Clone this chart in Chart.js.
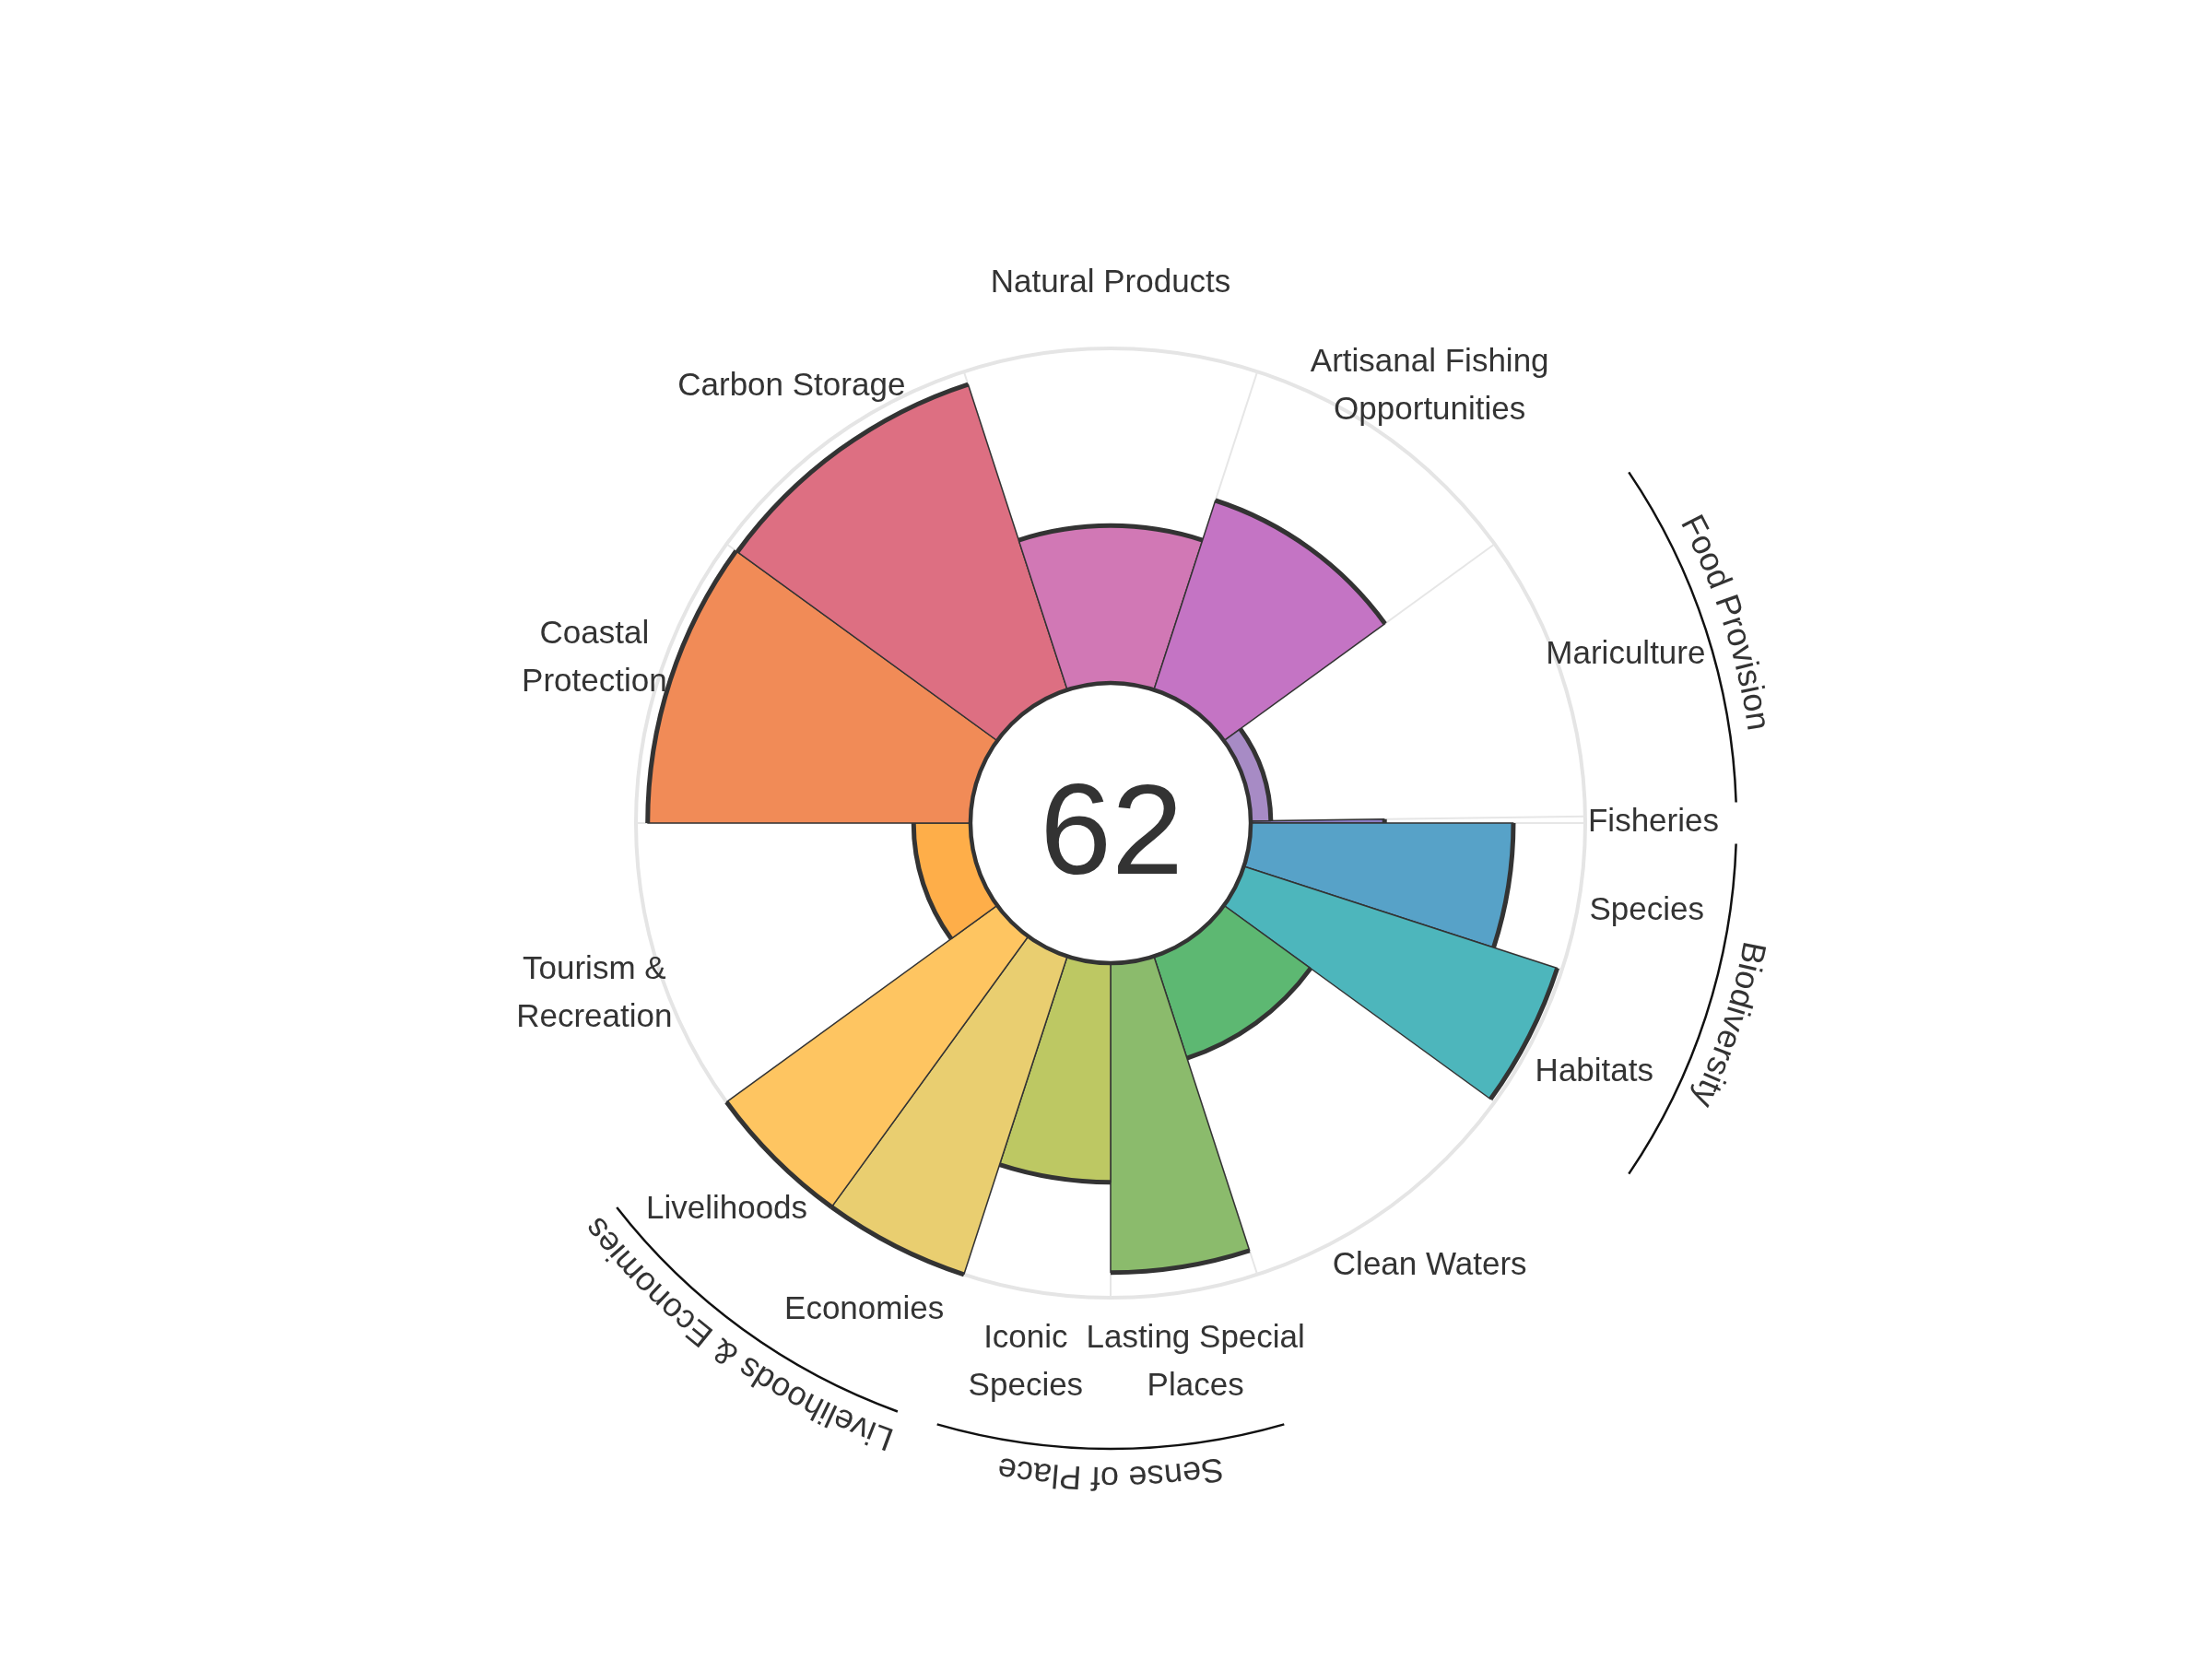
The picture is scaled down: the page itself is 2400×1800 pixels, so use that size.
<!DOCTYPE html>
<html>
<head>
<meta charset="utf-8">
<script src="https://cdn.jsdelivr.net/npm/chart.js@4.4.0/dist/chart.umd.min.js"></script>
<style>
  html, body { margin: 0; padding: 0; background: #fff; }
  #wrap { width: 2400px; height: 1800px; }
</style>
</head>
<body>
<div id="wrap"><canvas id="flower"></canvas></div>
<script>
// goals go clockwise, starting just above 3 o'clock
let goals = ['Fisheries', 'Species', 'Habitats', 'Clean Waters', 'Lasting Special Places', 'Iconic Species',
             'Economies', 'Livelihoods', 'Tourism & Recreation', 'Coastal Protection', 'Carbon Storage',
             'Natural Products', 'Artisanal Fishing Opportunities', 'Mariculture'];
let scores = [40, 78.5, 98.5, 32, 92.5, 65.5, 100, 100, 17, 96.5, 96, 47, 59.5, 6];
// petal widths in degrees (goal weights)
let widths = [0.8, 18, 18, 36, 18, 18, 18, 18, 36, 36, 36, 36, 36, 35.2];
let tickLabels = [['Fisheries'], ['Species'], ['Habitats'], ['Clean Waters'], ['Lasting Special', 'Places'],
                  ['Iconic', 'Species'], ['Economies'], ['Livelihoods'], ['Tourism &', 'Recreation'],
                  ['Coastal', 'Protection'], ['Carbon Storage'], ['Natural Products'],
                  ['Artisanal Fishing', 'Opportunities'], ['Mariculture']];
let colors = ['#8a7cc3', '#57a2c8', '#4db6bc', '#5db872', '#8bbb6c', '#bdc863', '#e9ce70', '#fec561',
              '#feae49', '#f18b57', '#dd6f82', '#d178b5', '#c474c4', '#a78bc5'];
let groupNames = ['Food Provision', 'Biodiversity', 'Sense of Place', 'Livelihoods & Economies'];
let groupMembers = [['Fisheries', 'Mariculture'], ['Species', 'Habitats'],
                    ['Lasting Special Places', 'Iconic Species'], ['Economies', 'Livelihoods']];
let overallScore = 62;

const FONT = '"Liberation Sans", Arial, Helvetica, sans-serif';

function textOnArc(ctx, text, cx, cy, rad, mid) {
  let total = ctx.measureText(text).width;
  let a = mid - total / 2 / rad;
  for (let ch of text) {
    let w = ctx.measureText(ch).width;
    let phi = a + (w / 2) / rad;
    ctx.save();
    ctx.translate(cx + rad * Math.cos(phi), cy + rad * Math.sin(phi));
    ctx.rotate(phi + Math.PI / 2);
    ctx.fillText(ch, 0, 0);
    ctx.restore();
    a += w / rad;
  }
}

let flowerDecor = {
  id: 'flowerDecor',
  beforeDatasetsDraw(chart) {
    let ctx = chart.ctx, r = chart.scales.r;
    let arcs = chart.getDatasetMeta(0).data;
    ctx.save();
    ctx.strokeStyle = '#e6e6e6';
    ctx.lineWidth = 2;
    arcs.forEach(a => {
      ctx.beginPath();
      ctx.moveTo(r.xCenter, r.yCenter);
      ctx.lineTo(r.xCenter + r.drawingArea * Math.cos(a.startAngle), r.yCenter + r.drawingArea * Math.sin(a.startAngle));
      ctx.stroke();
    });
    ctx.restore();
  },
  afterDatasetsDraw(chart) {
    let ctx = chart.ctx, r = chart.scales.r;
    let cx = r.xCenter, cy = r.yCenter;
    let arcs = chart.getDatasetMeta(0).data;
    ctx.save();

    // thick outline on the outer edge of each petal
    ctx.strokeStyle = '#333';
    ctx.lineWidth = 5;
    arcs.forEach(a => {
      ctx.beginPath();
      ctx.arc(a.x, a.y, a.outerRadius, a.startAngle, a.endAngle);
      ctx.stroke();
    });

    // hole + overall score
    let hole = r.getDistanceFromCenterForValue(0);
    ctx.beginPath();
    ctx.arc(cx, cy, hole, 0, Math.PI * 2);
    ctx.fillStyle = '#fff';
    ctx.fill();
    ctx.lineWidth = 4.5;
    ctx.stroke();
    ctx.fillStyle = '#333';
    ctx.font = '140px ' + FONT;
    ctx.textAlign = 'center';
    ctx.textBaseline = 'alphabetic';
    ctx.fillText(String(overallScore), cx + 1, cy + 55);

    // goal labels
    ctx.font = '35px ' + FONT;
    let labelR = r.drawingArea + 74;
    arcs.forEach((a, i) => {
      let mid = (a.startAngle + a.endAngle) / 2;
      let x = cx + labelR * Math.cos(mid), y = cy + labelR * Math.sin(mid);
      let lines = tickLabels[i];
      lines.forEach((t, j) => {
        ctx.fillText(t, x, y + (j - (lines.length - 1) / 2) * 52 + 13);
      });
    });

    // group arcs and labels
    let arcR = r.drawingArea + 164, txtR = r.drawingArea + 184;
    let pad = 1.9 * Math.PI / 180;
    ctx.font = '36px ' + FONT;
    groupNames.forEach((g, k) => {
      let s = Infinity, e = -Infinity;
      groupMembers[k].forEach(m => {
        let a = arcs[goals.indexOf(m)];
        let st = a.startAngle, en = a.endAngle;
        while (st < 0) { st += Math.PI * 2; en += Math.PI * 2; }
        while (st >= Math.PI * 2) { st -= Math.PI * 2; en -= Math.PI * 2; }
        s = Math.min(s, st);
        e = Math.max(e, en);
      });
      ctx.beginPath();
      ctx.arc(cx, cy, arcR, s + pad, e - pad);
      ctx.strokeStyle = '#111';
      ctx.lineWidth = 2.5;
      ctx.stroke();
      ctx.fillStyle = '#333';
      ctx.textAlign = 'center';
      textOnArc(ctx, g, cx, cy, txtR, (s + e) / 2);
    });
    ctx.restore();
  }
};

new Chart(document.getElementById('flower'), {
  type: 'polarArea',
  data: {
    labels: goals,
    datasets: [{
      data: scores,
      backgroundColor: colors,
      borderColor: '#333',
      borderWidth: 1.5,
      angle: ctx => widths[ctx.dataIndex]
    }]
  },
  options: {
    responsive: true,
    maintainAspectRatio: false,
    animation: false,
    layout: { padding: { left: 690, right: 680, top: 378, bottom: 392 } },
    plugins: { legend: { display: false }, tooltip: { enabled: false } },
    scales: {
      r: {
        min: -41.9,
        max: 100,
        startAngle: 89.2,
        ticks: { display: false },
        afterBuildTicks: s => { s.ticks = [{ value: s.min }, { value: 100 }]; },
        grid: { color: c => c.index === 0 ? 'rgba(0,0,0,0)' : '#e5e5e5', lineWidth: 4 },
        angleLines: { display: false },
        pointLabels: { display: false }
      }
    }
  },
  plugins: [flowerDecor]
});
</script>
</body>
</html>
